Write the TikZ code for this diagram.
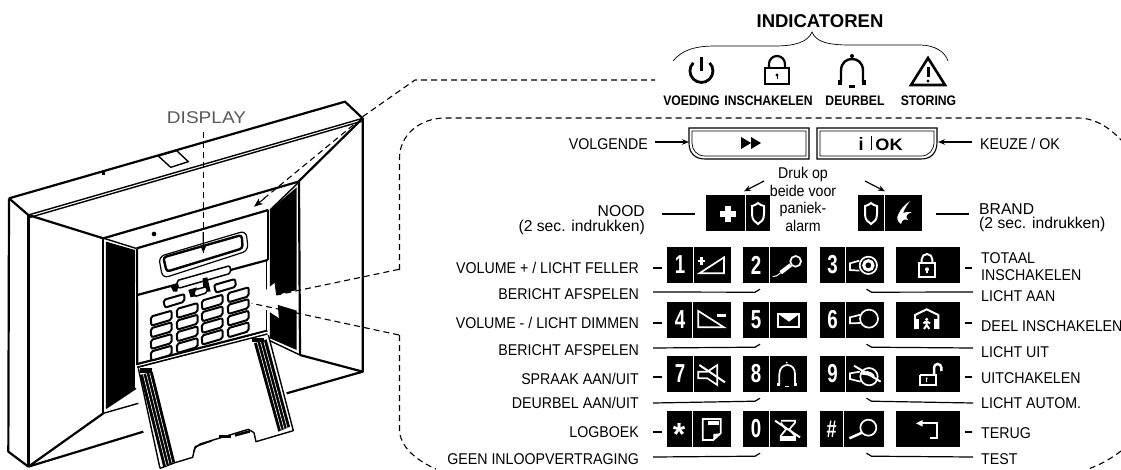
\documentclass[tikz,border=0pt]{standalone}
\usepackage{graphicx}
\usepackage{fontspec}
\setmainfont{Liberation Sans}
\newfontfamily\narf[FakeStretch=.91]{Liberation Sans}
\newfontfamily\narb[FakeStretch=.885,BoldFont={Liberation Sans Bold}]{Liberation Sans Bold}
\usetikzlibrary{arrows.meta,calc}
\tikzset{
 z/.style 2 args={shift={(#1pt,-#2pt)},x=.33333pt,y=-.33333pt},
 lab/.style={inner sep=0pt,font=\narf\fontsize{15.6}{17}\selectfont},
 labr/.style={lab,anchor=base east},
 labl/.style={lab,anchor=base west},
 big/.style={inner sep=0pt,font=\fontsize{15.7}{17}\selectfont},
 ind/.style={inner sep=0pt,anchor=base,font=\narb\fontsize{13.8}{15}\selectfont},
 conn/.style={line width=1.2pt},
 arr/.style={line width=1.2pt,-{Stealth[length=7pt,width=5.5pt]}},
 dsh/.style={line width=1.1pt,dash pattern=on 6pt off 4pt},
 keybox/.style={fill=black,draw=none,inner sep=0pt,minimum width=64pt,minimum height=36pt},
 dig/.style={text=white,inner sep=0pt,font=\bfseries\fontsize{26}{26}\selectfont},
 ic/.style={draw=white,line width=1.7pt,line join=miter},
 dv/.style={line width=1.4pt,line join=round},
 dk/.style={line width=2.2pt,line join=round},
 pad/.style={draw=black,fill=white,line width=2pt,rounded corners=2pt},
}
\newcommand\keyat[4]{% name, cx, cy, divider x
 \node[keybox] (#1) at (#2,#3) {};
 \draw[white,line width=.8pt] (#4,#3-18) -- (#4,#3+18);
}
\newcommand\digit[3]{\node[dig] at (#1,#2) {\scalebox{.72}[1]{#3}};}
\begin{document}
\begin{tikzpicture}[x=1pt,y=-1pt]
\useasboundingbox (0,0) rectangle (1121,469);
% ---------- device ----------
\begin{scope}[z={0}{60}]
 \draw[dk] (27,415) -- (1035,125) -- (1088,175) -- (1088,935) -- (900,885);
 \draw[dk] (27,415) -- (25,1175) -- (85,1220);
 \draw[dk,line width=3pt] (85,1220) -- (85,465);
 \draw[dk] (85,465) -- (27,415);
 \draw[dv] (85,465) -- (1088,175);
 \draw[dv] (90,472) -- (1088,183);
 \draw[dk] (85,465) -- (310,535) -- (895,365) -- (1088,175);
 \draw[dk] (85,1220) -- (310,1060);
 \draw[dk] (85,1220) -- (430,1115);
 \draw[dk] (860,1000) -- (1088,935);
 \draw[dv] (310,1060) -- (415,1030);
 \draw[dk] (310,535) -- (310,1060);
 \draw[dk] (897,365) -- (900,885);
 \draw[dv] (475,288) -- (530,272) -- (565,305) -- (512,322) -- cycle;
 \fill (305,335) rectangle (315,345);
 % black panels
 \fill (318,545) -- (405,570) -- (405,985) -- (318,1045) -- cycle;
 \fill (810,450) -- (890,382) -- (890,870) -- (810,835) -- cycle;
 \draw[dv] (318,1045) -- (408,985);
 \draw[dv] (312,535) -- (408,565);
 \draw[dv] (810,450) -- (895,368);
 \draw[dv] (805,840) -- (900,885);
 % face
 \draw[dk] (410,565) -- (805,450);
 \draw[dk] (411,565) -- (412,915);
 \draw[dk] (805,450) -- (805,600);
 \draw[dv] (800,600) -- (800,815);
 \draw[dk] (412,705) -- (803,600);
 \draw[dk] (412,912) -- (802,812);
 \draw[dv] (412,922) -- (802,822);
 \fill (462,522) circle (7);
 % display
 \draw[line width=1.2pt,rounded corners=6pt] (476,590) -- (738,512) -- (745,572) -- (488,655) -- cycle;
 \draw[line width=2.4pt,rounded corners=3pt] (490,592) -- (725,525) -- (728,565) -- (500,635) -- cycle;
 % top pad keys
 \draw[pad,line width=1.5pt] (530,662) -- (690,617) -- (692,640) -- (535,685) -- cycle;
 \fill (512,680) -- (535,675) -- (532,695) -- (520,695) -- cycle;
 \fill (565,690) -- (590,682) -- (590,708) -- (572,712) -- cycle;
 \fill (608,655) -- (622,652) -- (632,695) -- (610,695) -- cycle;
 \draw[pad,line width=1.5pt] (582,690) -- (620,680) -- (622,698) -- (584,710) -- cycle;
 \draw[pad] (642,675) -- (705,657) -- (708,680) -- (648,698) -- cycle;
 \draw[pad] (490,720) -- (553,702) -- (553,725) -- (495,743) -- cycle;
 % keypad
 \foreach \xa/\ya in {452/770, 530/747, 605/722, 683/700}{
  \foreach \r in {0,1,2,3}{
   \draw[pad] (\xa,\ya+35*\r) -- (\xa+63,\ya+35*\r-18) -- (\xa+63,\ya+35*\r+9) -- (\xa+2,\ya+35*\r+27) -- cycle;
  }
 }
 % stand
 \fill[white] (412,925) -- (480,1225) -- (525,1208) -- (582,1190) -- (587,1160) -- (635,1140) -- (750,1110) -- (768,1145) -- (880,1112) -- (800,815) -- cycle;
 \draw[dv] (480,1225) -- (525,1208) -- (578,1192) -- (584,1165) -- (600,1152) -- (745,1108) -- (762,1118) -- (768,1145) -- (880,1112) -- (805,825);
 \draw[dv] (415,925) -- (480,1225);
 \draw[dv] (412,922) -- (802,822);
 \fill (420,945) -- (458,935) -- (525,1205) -- (490,1222) -- cycle;
 \fill (762,850) -- (800,838) -- (870,1100) -- (835,1115) -- cycle;
 \foreach \f in {.25,.5,.75}{
  \draw[white,line width=.6pt] ($(420,945)!\f!(458,935)$) -- ($(490,1222)!\f!(525,1205)$);
  \draw[white,line width=.6pt] ($(762,850)!\f!(800,838)$) -- ($(835,1115)!\f!(870,1100)$);
 }
 \fill (420,925) rectangle (455,938);
 \fill (757,835) rectangle (792,845);
 \draw[line width=1.5pt] (582,1175) -- (586,1160) -- (636,1142);
 \fill (658,1125) rectangle (692,1134);
 \fill (705,1122) -- (750,1110) -- (750,1118) -- (705,1130) -- cycle;
 % big white arrow
 \fill[white] (758,722) -- (825,668) -- (830,705) -- (892,690) -- (892,752) -- (835,735) -- (838,775) -- cycle;
 \draw[line width=1pt] (825,668) -- (830,705);
 \draw[line width=1pt] (835,735) -- (838,775);
 \coordinate (panelA) at (1197,628);
 \coordinate (panelB) at (1197,825);
 \coordinate (tipA) at (830,705);
 \coordinate (tipB) at (755,730);
 \coordinate (cornerA) at (1088,170);
 \coordinate (cornerB) at (1060,195);
 \coordinate (faceTip) at (762,440);
 \coordinate (dispA) at (610,215);
 \coordinate (dispB) at (610,578);
\end{scope}
\draw[dsh] (panelA) -- (tipA);
\draw[dsh] (panelB) -- (tipB);
\draw[dsh,line width=1.6pt] (dispA) -- (dispB);
\draw[-{Stealth[length=7pt,width=6pt]},line width=1.2pt] (203.3,232) -- (dispB);
\draw[dsh] (cornerB) -- (faceTip);
\draw[-{Stealth[length=9pt,width=7pt]},line width=1pt] (265,198) -- (faceTip);
\node[inner sep=0pt,text=black!65,font=\fontsize{17}{19}\selectfont] (dsp) at (206.5,118) {\scalebox{1.12}[1]{DISPLAY}};
% ---------- dashed outlines ----------
\coordinate (a1) at (415,80);
\coordinate (a2) at (655,80);
\draw[dsh] (cornerA) -- (a1) -- (a2);
\draw[dsh] (399.5,270) -- (399.5,158) .. controls (399.5,135) and (420,118) .. (445,118) -- (1078,118) .. controls (1095,118) and (1110,128) .. (1121,140);
\draw[dsh] (399.5,335) -- (399.5,432) .. controls (402,450) and (420,462) .. (436,469);
\draw[dsh] (1121,451) .. controls (1112,458) and (1100,465) .. (1088,469);
% ---------- indicators ----------
\node[inner sep=0pt,anchor=base,font=\bfseries\fontsize{18.5}{20}\selectfont] (indt) at (820,27) {INDICATOREN};
\draw[line width=.7pt] (673,61) .. controls (682,50) and (695,46) .. (715,46) -- (775,46) .. controls (795,46) and (808,42) .. (812,32) .. controls (816,42) and (828,45) .. (850,45) -- (920,45) .. controls (935,45) and (945,52) .. (948,61);
\node[ind] (i1) at (691.5,105) {VOEDING};
\node[ind] (i2) at (768.5,105) {INSCHAKELEN};
\node[ind] (i3) at (855,105) {DEURBEL};
\node[ind] (i4) at (928.5,105) {STORING};
% power
\draw[line width=2.8pt] (693.3,62.8) arc[start angle=-135,end angle=-405,radius=11.5];
\draw[line width=3pt] (701,57) -- (701,71);
% lock
\draw[line width=2.2pt] (765,68) rectangle (789,84);
\draw[line width=2.2pt] (769,68) -- (769,64) arc[start angle=180,end angle=360,radius=8] -- (785,68);
\fill (777,75) circle (1.7); \draw[line width=1pt] (777,75) -- (777,79);
% bell
\draw[line width=2.4pt] (841,82) -- (841,71) .. controls (841,62) and (847,59) .. (852,59) .. controls (857,59) and (863,62) .. (863,71) -- (863,82);
\fill (852,56) circle (2);
\fill (838,80) rectangle (842,85); \fill (862,80) rectangle (866,85);
\fill (849,85) rectangle (855,88);
% triangle
\draw[line width=2.6pt,line join=miter] (928,58) -- (945,85) -- (911,85) -- cycle;
\draw[line width=3pt] (928,67) -- (928,77);
\fill (928,81) circle (1.6);
% ---------- top buttons ----------
\draw[line width=1.1pt] (689,128) -- (809,128) -- (809,159) -- (705,159) .. controls (695,159) and (689,153) .. (689,143) -- cycle;
\draw[line width=.7pt] (692,131) -- (806,131) -- (806,156) -- (705,156) .. controls (697,156) and (692,150) .. (692,143) -- cycle;
\coordinate (bn) at (689,142);
\draw[line width=1.1pt] (817,128) -- (937,128) -- (937,142) .. controls (937,153) and (931,159) .. (921,159) -- (817,159) -- cycle;
\draw[line width=.7pt] (820,131) -- (934,131) -- (934,142) .. controls (934,150) and (929,156) .. (921,156) -- (820,156) -- cycle;
\coordinate (bk) at (938,142);
\fill (741,137) -- (751,143) -- (741,149) -- cycle;
\fill (751,137) -- (761,143) -- (751,149) -- cycle;
\node[inner sep=0pt,anchor=base,font=\bfseries\fontsize{18}{18}\selectfont] at (861,150) {i};
\draw[line width=1pt] (871,136) -- (871,150);
\node[inner sep=0pt,anchor=base,font=\bfseries\fontsize{16.5}{18}\selectfont] at (889,150) {\scalebox{1.1}[1]{OK}};
\node[labr] (lnext) at (648,149) {VOLGENDE};
\node[labl] (lok) at (980,149) {KEUZE / OK};
\draw[arr] ([xshift=7]lnext.east |- bn) -- (bn);
\draw[arr] ([xshift=-8]lok.west |- bk) -- (bk);
% ---------- panic keys ----------
\node[keybox] (kn) at (738,212.5) {};
\draw[white,line width=.6pt] (745,194) -- (745,231);
\node[keybox] (kb) at (890,212.5) {};
\draw[white,line width=.6pt] (884,194) -- (884,231);
\fill[white] (725,206) rectangle (731,222); \fill[white] (720,211) rectangle (736,217);
\foreach \sx in {758,871}{
 \draw[white,line width=2pt] (\sx-6,206) .. controls (\sx-3,206) and (\sx-2,204) .. (\sx,203) .. controls (\sx+2,204) and (\sx+3,206) .. (\sx+6,206) -- (\sx+6,214) .. controls (\sx+6,220) and (\sx+3,222) .. (\sx,224) .. controls (\sx-3,222) and (\sx-6,220) .. (\sx-6,214) -- cycle;
}
\fill[white] (910,201) .. controls (904,205) and (901,209) .. (899,213) .. controls (896,218) and (897,221) .. (901,224) .. controls (902,219) and (905,219) .. (908,220) .. controls (905,217) and (906,214) .. (912,212) .. controls (907,212) and (905,212) .. (903,213) .. controls (905,208) and (907,205) .. (910,201) -- cycle;
\node[big,anchor=base east] (lnood) at (645,216) {NOOD};
\node[big,anchor=base east] (lnood2) at (645,231) {(2 sec. indrukken)};
\node[big,anchor=base west] (lbr) at (979,214) {BRAND};
\node[big,anchor=base west] (lbr2) at (979,228) {(2 sec. indrukken)};
\draw[conn] ([shift={(17,-2)}]lnood.base east) -- ([xshift=-11]kn.west |- 0,214);
\draw[conn] ([shift={(-10,0)}]lbr.base west) -- ([xshift=14]kb.east |- 0,214);
\node[lab,anchor=base] (pa) at (803,178) {Druk op};
\node[lab,anchor=base] (pb) at (803,196) {beide voor};
\node[lab,anchor=base] (pc) at (803,213) {paniek-};
\node[lab,anchor=base] (pd) at (803,231) {alarm};
\coordinate (pl) at (764,181);
\coordinate (pr) at (865,181);
\draw[arr] (pl) -- ([shift={(6,-3)}]kn.north);
\draw[arr] (pr) -- ([shift={(-5,-3)}]kb.north);
% ---------- keypad ----------
\keyat{k1}{699}{265}{693}
\keyat{k2}{775}{265}{769}
\keyat{k3}{851.5}{265}{845}
\node[keybox] (k3a) at (927.5,265) {};
\keyat{k4}{699}{320}{692.5}
\keyat{k5}{775}{320}{769}
\keyat{k6}{851.5}{320}{845}
\node[keybox] (k6a) at (927.5,320) {};
\keyat{k7}{699}{374}{693}
\keyat{k8}{775}{374}{769}
\keyat{k9}{851.5}{374}{845}
\node[keybox] (k9a) at (927.5,374) {};
\keyat{ks}{699}{429}{692}
\keyat{k0}{775}{429}{769}
\keyat{kh}{851.5}{429}{843.5}
\node[keybox] (kha) at (927.5,429) {};
\digit{680}{265}{1}\digit{756}{265}{2}\digit{832.5}{265}{3}
\digit{680}{320}{4}\digit{756}{320}{5}\digit{832.5}{320}{6}
\digit{680}{374}{7}\digit{756}{374}{8}\digit{832.5}{374}{9}
\digit{756}{429}{0}
\node[text=white,inner sep=0pt,font=\bfseries\fontsize{32}{32}\selectfont] at (679,434) {*};
\node[text=white,inner sep=0pt,font=\bfseries\fontsize{24}{24}\selectfont] at (831.5,429) {\scalebox{.75}[1]{\#}};
% icons: row 1 and 2
\begin{scope}[z={660}{240}]
 \draw[ic] (118,100) -- (192,52) -- (192,100) -- cycle;
 \fill[white] (121,52) rectangle (128,74); \fill[white] (114,59) rectangle (135,66);
 \draw[ic,line width=1pt] (338,110) .. controls (348,110) and (355,106) .. (362,98);
 \draw[white,line width=4pt] (362,98) -- (392,75);
 \draw[ic] (407,64) circle (16);
 \draw[ic] (115,213) -- (192,262) -- (115,262) -- cycle;
 \fill[white] (172,222) rectangle (198,231);
 \draw[ic] (355,222) rectangle (418,262);
 \fill[white] (355,222) -- (418,222) -- (387,245) -- cycle;
\end{scope}
\begin{scope}[z={770}{230}]
 \draw[ic] (295,106) circle (26);
 \draw[ic] (268,92) -- (240,100) -- (240,120) -- (268,122);
 \draw[white,line width=3pt] (295,106) circle (14);
 \draw[ic] (297,266) circle (27);
 \draw[ic] (272,254) -- (240,262) -- (240,280) -- (272,279);
 % lock
 \draw[ic] (447,100) rectangle (495,140);
 \draw[ic,line width=2pt] (455,100) -- (455,88) arc[start angle=180,end angle=360,radius=16] -- (487,100);
 \fill[white] (471,118) circle (6); \draw[white,line width=1.5pt] (471,118) -- (471,130);
 % house
 \draw[white,line width=2pt] (435,297) -- (435,255) -- (470,238) -- (505,255) -- (505,297);
 \draw[white,line width=4pt] (442,297) -- (442,268);
 \draw[white,line width=4pt] (498,297) -- (498,268);
 \fill[white] (470,268) circle (5);
 \draw[white,line width=2pt] (470,272) -- (470,285) (460,280) -- (470,274) -- (480,280) (470,285) -- (462,297) (470,285) -- (478,297);
\end{scope}
\begin{scope}[z={660}{350}]
 \draw[ic] (115,65) -- (142,65) -- (172,45) -- (172,105) -- (142,85) -- (115,85) -- cycle;
 \draw[white,line width=2pt] (118,45) -- (195,97);
 \draw[ic] (358,105) -- (358,72) .. controls (358,55) and (370,45) .. (382,45) .. controls (395,45) and (405,55) .. (405,72) -- (405,105);
 \fill[white] (380,38) circle (3);
 \fill[white] (352,100) rectangle (360,108); \fill[white] (403,100) rectangle (411,108);
 \fill[white] (376,108) rectangle (388,112);
 % logbook
 \draw[ic] (128,270) -- (128,207) -- (182,207) -- (182,250) -- (160,270) -- cycle;
 \fill[white] (145,214) rectangle (178,226);
 \fill[white] (160,270) -- (182,250) -- (160,252) -- cycle;
 % hourglass
 \draw[ic] (363,212) -- (405,212) -- (405,218) -- (388,238) -- (405,258) -- (405,270) -- (362,270) -- (362,258) -- (378,238) -- (362,218);
 \draw[white,line width=2pt] (345,212) -- (420,262);
 \fill[white] (362,258) -- (405,258) -- (405,270) -- (362,270) -- cycle;
\end{scope}
\begin{scope}[z={770}{345}]
 % bulb auto
 \draw[ic] (297,95) circle (26);
 \draw[ic] (270,80) -- (240,85) -- (240,102) -- (272,110);
 \draw[white,line width=2pt] (252,62) -- (332,110);
 \fill[white] (272,88) .. controls (280,74) and (305,74) .. (315,95) -- cycle;
 % open lock
 \draw[white,line width=2pt] (450,90) -- (450,120) -- (497,120) -- (497,88);
 \draw[white,line width=2pt] (450,90) -- (497,90);
 \draw[white,line width=2.5pt] (492,90) -- (492,68) arc[start angle=180,end angle=360,radius=11] -- (514,78);
 \fill[white] (470,100) circle (3); \draw[white,line width=1.5pt] (470,100) -- (470,110);
 % back arrow
 \fill[white] (438,235) -- (458,225) -- (458,245) -- cycle;
 \draw[white,line width=2pt] (455,235) -- (500,235) -- (500,280) -- (480,280);
 % magnifier
 \draw[ic] (295,248) circle (24);
 \draw[white,line width=2.5pt] (238,280) -- (276,263);
\end{scope}
% ---------- labels ----------
\node[labr] (l1) at (639,273) {VOLUME + / LICHT FELLER};
\node[labr] (l2) at (639,299) {BERICHT AFSPELEN};
\node[labr] (l4) at (639,328) {VOLUME - / LICHT DIMMEN};
\node[labr] (l5) at (639,355) {BERICHT AFSPELEN};
\node[labr] (l7) at (639,384) {SPRAAK AAN/UIT};
\node[labr] (l8) at (639,408) {DEURBEL AAN/UIT};
\node[labr] (ls) at (639,437) {LOGBOEK};
\node[labr] (l0) at (639,464) {GEEN INLOOPVERTRAGING};
\node[labl] (r1) at (981,263) {TOTAAL};
\node[labl] (r1b) at (981,280) {INSCHAKELEN};
\node[labl] (r3) at (981,301) {LICHT AAN};
\node[labl] (r4) at (981,331) {DEEL INSCHAKELEN};
\node[labl] (r6) at (981,357) {LICHT UIT};
\node[labl] (r7) at (981,383) {UITCHAKELEN};
\node[labl] (r9) at (981,408) {LICHT AUTOM.};
\node[labl] (r0) at (981,438) {TERUG};
\node[labl] (rt) at (981,464) {TEST};
% ---------- connectors ----------
\draw[conn] ([xshift=14]l1.east |- 0,268) -- ([xshift=-5]k1.west |- 0,268);
\draw[conn] ([xshift=14]l4.east |- 0,323) -- ([xshift=-5]k4.west |- 0,323);
\draw[conn] ([xshift=14]l7.east |- 0,377) -- ([xshift=-5]k7.west |- 0,377);
\draw[conn] ([xshift=14]ls.east |- 0,432) -- ([xshift=-5]ks.west |- 0,432);
\foreach \l/\k/\yy in {l2/k2/292,l5/k5/348,l8/k8/403,l0/k0/457}{
 \draw[conn] ([xshift=14]\l.east |- 0,\yy) -- ([shift={(-20,9)}]\k.south) -- ([shift={(-15,6)}]\k.south);
}
\foreach \l/\k/\yy in {r3/k3/292,r6/k6/348,r9/k9/403,rt/kh/457}{
 \draw[conn] ([xshift=-8]\l.west |- 0,\yy) -- ([shift={(20,9)}]\k.south) -- ([shift={(15,6)}]\k.south);
}
\draw[conn] ([xshift=5]k3a.east |- 0,268) -- ([xshift=-9]r1.west |- 0,268);
\draw[conn] ([xshift=5]k6a.east |- 0,323) -- ([xshift=-9]r4.west |- 0,323);
\draw[conn] ([xshift=5]k9a.east |- 0,377) -- ([xshift=-9]r7.west |- 0,377);
\draw[conn] ([xshift=5]kha.east |- 0,432) -- ([xshift=-9]r0.west |- 0,432);
\end{tikzpicture}
\end{document}
